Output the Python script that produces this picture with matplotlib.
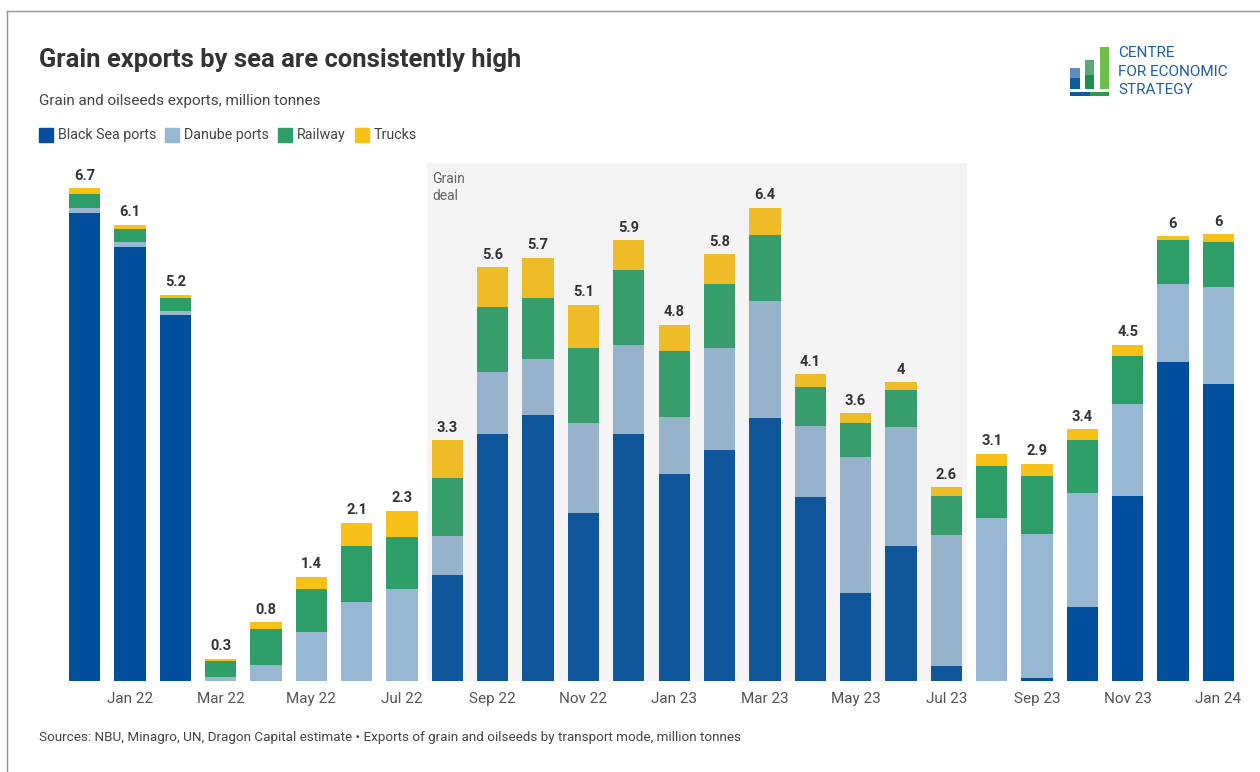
import matplotlib.pyplot as plt
from matplotlib.patches import Rectangle
from matplotlib.lines import Line2D

plt.rcParams['font.family'] = ['Roboto', 'DejaVu Sans']

# monthly exports by transport mode, million tonnes
months = ["Dec 21", "Jan 22", "Feb 22", "Mar 22", "Apr 22", "May 22", "Jun 22", "Jul 22",
          "Aug 22", "Sep 22", "Oct 22", "Nov 22", "Dec 22", "Jan 23", "Feb 23", "Mar 23",
          "Apr 23", "May 23", "Jun 23", "Jul 23", "Aug 23", "Sep 23", "Oct 23", "Nov 23",
          "Dec 23", "Jan 24"]
black_sea = [6.36, 5.90, 4.98, 0.0, 0.0, 0.0, 0.0, 0.0, 1.44, 3.36, 3.62, 2.28, 3.36,
             2.81, 3.14, 3.57, 2.50, 1.19, 1.83, 0.20, 0.0, 0.04, 1.00, 2.51, 4.33, 4.03]
danube = [0.065, 0.06, 0.05, 0.06, 0.22, 0.67, 1.07, 1.25, 0.53, 0.84, 0.76, 1.22, 1.21,
          0.78, 1.38, 1.59, 0.96, 1.85, 1.62, 1.78, 2.22, 1.96, 1.56, 1.26, 1.07, 1.33]
railway = [0.20, 0.18, 0.17, 0.21, 0.49, 0.58, 0.76, 0.71, 0.79, 0.88, 0.83, 1.03, 1.02,
           0.90, 0.88, 0.90, 0.54, 0.47, 0.51, 0.53, 0.70, 0.78, 0.72, 0.65, 0.59, 0.60]
trucks = [0.07, 0.06, 0.05, 0.03, 0.09, 0.17, 0.32, 0.35, 0.51, 0.54, 0.54, 0.58, 0.40,
          0.35, 0.40, 0.37, 0.17, 0.13, 0.10, 0.12, 0.17, 0.17, 0.14, 0.15, 0.055, 0.11]
total_labels = ["6.7", "6.1", "5.2", "0.3", "0.8", "1.4", "2.1", "2.3", "3.3", "5.6", "5.7",
                "5.1", "5.9", "4.8", "5.8", "6.4", "4.1", "3.6", "4", "2.6", "3.1", "2.9",
                "3.4", "4.5", "6", "6"]

series = [("Black Sea ports", black_sea, "#004f9c"),
          ("Danube ports", danube, "#97b7d3"),
          ("Railway", railway, "#2e9e68"),
          ("Trucks", trucks, "#f8c11a")]

W, H = 1260, 772
fig = plt.figure(figsize=(W / 100, H / 100), dpi=100)
ax = fig.add_axes([62 / W, (H - 681) / H, (1241 - 62) / W, (681 - 163) / H])

x = list(range(len(months)))
bottom = [0.0] * len(months)
for name, vals, col in series:
    ax.bar(x, vals, bottom=bottom, width=0.69, color=col, zorder=2)
    bottom = [b + v for b, v in zip(bottom, vals)]

# grain deal shading sits over the bars, like the original
ax.axvspan(7.54, 19.46, color="#979797", alpha=0.1, lw=0, zorder=3)
ax.text(7.66, 6.92, "Grain\ndeal", fontsize=10, color="#666666", va="top",
        linespacing=1.25, zorder=4)

for xi, top, lab in zip(x, bottom, total_labels):
    ax.annotate(lab, (xi, top), xytext=(0, 4), textcoords="offset points",
                ha="center", va="bottom", fontsize=10.5, fontweight="bold",
                color="#333333", zorder=5)

ax.set_xlim(-0.5, 25.5)
ax.set_ylim(0, 7.04)
ax.set_xticks(x[1::2])
ax.set_xticklabels(months[1::2], fontsize=11, color="#555555")
ax.tick_params(axis="x", length=0, pad=8)
ax.set_yticks([])
for s in ax.spines.values():
    s.set_visible(False)

# titles
fig.text(39 / W, 1 - 60 / H, "Grain exports by sea are consistently high",
         fontsize=18.4, fontweight="bold", color="#333333", va="center")
fig.text(39 / W, 1 - 101 / H, "Grain and oilseeds exports, million tonnes",
         fontsize=11, color="#444444", va="center")

# legend
lx = 39
for name, vals, col in series:
    fig.add_artist(Rectangle((lx / W, 1 - 142 / H), 14 / W, 14 / H,
                             transform=fig.transFigure, color=col))
    t = fig.text((lx + 19) / W, 1 - 135 / H, name, fontsize=10.3, color="#444444",
                 va="center")
    fig.canvas.draw()
    bb = t.get_window_extent()
    lx = bb.x1 + 9

fig.text(39 / W, 1 - 738 / H,
         "Sources: NBU, Minagro, UN, Dragon Capital estimate \u2022 Exports of grain and "
         "oilseeds by transport mode, million tonnes",
         fontsize=9.7, color="#444444", va="center")

# logo
def frect(x0, y0, x1, y1, col):
    fig.add_artist(Rectangle((x0 / W, 1 - y1 / H), (x1 - x0) / W, (y1 - y0) / H,
                             transform=fig.transFigure, color=col, lw=0))

frect(1070, 68, 1080, 78, "#5b8fc0")
frect(1070, 78, 1080, 89, "#0d5aa0")
frect(1085, 60, 1094, 75, "#5aa878")
frect(1085, 75, 1094, 89, "#1f8e4c")
frect(1100, 47, 1109, 89, "#6cc04a")
frect(1070, 92, 1090, 96, "#0d5aa0")
frect(1090, 92, 1109, 96, "#2b9a45")
for ty, txt in [(53, "CENTRE"), (72, "FOR ECONOMIC"), (90, "STRATEGY")]:
    fig.text(1118 / W, 1 - ty / H, txt, fontsize=11, color="#1a5fa8", va="center")

# frame of the screenshot
fig.add_artist(Line2D([7 / W, 7 / W], [0, 1 - 11 / H], transform=fig.transFigure,
                      color="#8a9497", lw=1))
fig.add_artist(Line2D([7 / W, 1], [1 - 11 / H, 1 - 11 / H], transform=fig.transFigure,
                      color="#8a9497", lw=1))

fig.savefig("out.png", dpi=100)
